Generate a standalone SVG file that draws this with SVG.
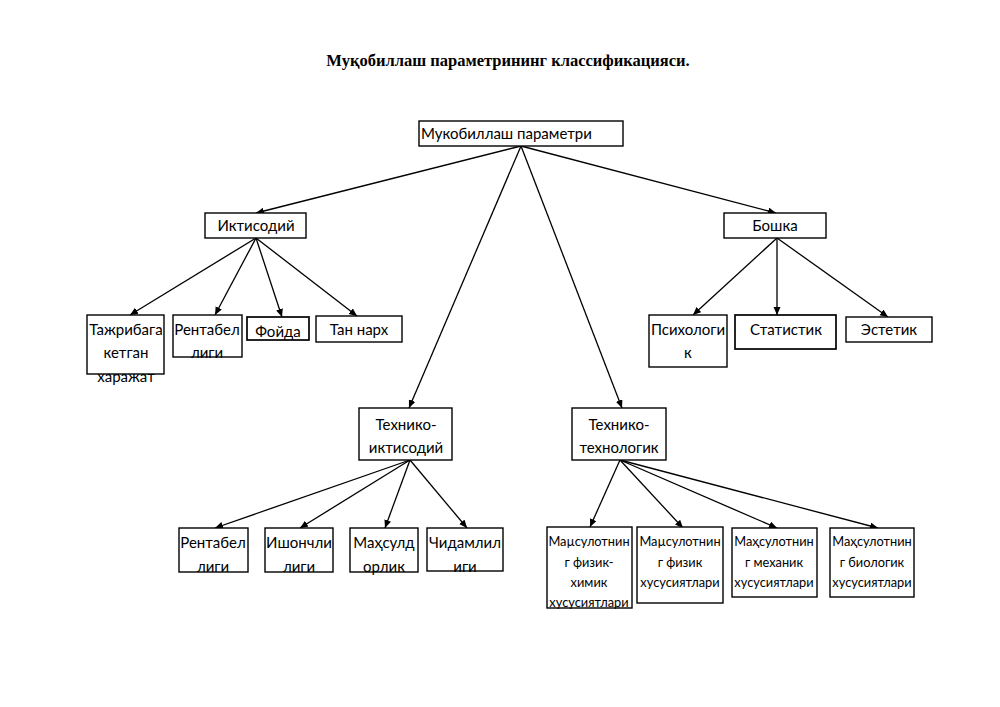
<svg xmlns="http://www.w3.org/2000/svg" width="1000" height="707" viewBox="0 0 1000 707">
<style>
.box{fill:#fff;stroke:#000;stroke-width:1.4}
.thick{stroke-width:1.7}
.t{font-family:Lato,"Open Sans","DejaVu Sans",sans-serif;font-size:15px;fill:#000;text-anchor:middle}
.s{font-family:Lato,"Open Sans","DejaVu Sans",sans-serif;font-size:12.8px;fill:#000;text-anchor:middle}
.title{font-family:"Liberation Serif","Times New Roman",serif;font-size:16.5px;font-weight:bold;fill:#000;text-anchor:middle}
.c{stroke:#000;stroke-width:1.3;fill:none;marker-end:url(#ah)}
</style>
<defs>
<marker id="ah" markerUnits="userSpaceOnUse" markerWidth="9" markerHeight="8" refX="8" refY="3.5" orient="auto">
<path d="M0,0 L8,3.5 L0,7 z" fill="#000"/>
</marker>
</defs>
<rect width="1000" height="707" fill="#fff"/>
<text class="title" x="508" y="66">Муқобиллаш параметрининг классификацияси.</text>

<g id="connectors">
<line class="c" x1="521" y1="146" x2="256" y2="213"/>
<line class="c" x1="521" y1="146" x2="776" y2="213"/>
<line class="c" x1="521" y1="146" x2="409" y2="408"/>
<line class="c" x1="521" y1="146" x2="622" y2="408"/>
<line class="c" x1="256" y1="238" x2="130" y2="315"/>
<line class="c" x1="256" y1="238" x2="215" y2="315"/>
<line class="c" x1="256" y1="238" x2="282" y2="317"/>
<line class="c" x1="256" y1="238" x2="357" y2="316"/>
<line class="c" x1="777" y1="238" x2="693" y2="315"/>
<line class="c" x1="777" y1="238" x2="777" y2="315"/>
<line class="c" x1="777" y1="238" x2="888" y2="317"/>
<line class="c" x1="410" y1="460" x2="215" y2="528"/>
<line class="c" x1="410" y1="460" x2="300" y2="528"/>
<line class="c" x1="410" y1="460" x2="385" y2="528"/>
<line class="c" x1="410" y1="460" x2="467" y2="528"/>
<line class="c" x1="620" y1="460" x2="590" y2="527"/>
<line class="c" x1="620" y1="460" x2="683" y2="528"/>
<line class="c" x1="620" y1="460" x2="777" y2="528"/>
<line class="c" x1="620" y1="460" x2="878" y2="528"/>
</g>

<g id="n-root"><rect class="box" x="419" y="121" width="204" height="25"/><text class="t" x="421" y="139" style="text-anchor:start">Мукобиллаш параметри</text></g>

<g id="n-iqtisodiy"><rect class="box" x="205" y="213" width="101" height="25"/><text class="t" x="256" y="231">Иктисодий</text></g>
<g id="n-boshqa"><rect class="box" x="724" y="213" width="102" height="25"/><text class="t" x="775" y="231">Бошка</text></g>

<g id="n-tajriba"><rect class="box" x="87" y="315" width="77" height="59"/><text class="t" x="126" y="335">Тажрибага</text><text class="t" x="126" y="358">кетган</text><text class="t" x="126" y="382">харажат</text></g>
<g id="n-rentabel1"><rect class="box" x="173" y="315" width="69" height="42"/><text class="t" x="207" y="335">Рентабел</text><text class="t" x="207" y="358">лиги</text></g>
<g id="n-foyda"><rect class="box thick" x="247" y="317" width="62" height="23"/><text class="t" x="278" y="337">Фойда</text></g>
<g id="n-tannarx"><rect class="box" x="316" y="316" width="86" height="26"/><text class="t" x="359" y="335">Тан нарх</text></g>

<g id="n-psix"><rect class="box" x="649" y="315" width="78" height="52"/><text class="t" x="688" y="335">Психологи</text><text class="t" x="688" y="358">к</text></g>
<g id="n-stat"><rect class="box thick" x="735" y="315" width="101" height="34"/><text class="t" x="786" y="335">Статистик</text></g>
<g id="n-estet"><rect class="box" x="846" y="317" width="86" height="25"/><text class="t" x="889" y="335">Эстетик</text></g>

<g id="n-tex-iqt"><rect class="box" x="359" y="408" width="93" height="52"/><text class="t" x="406" y="430">Технико-</text><text class="t" x="406" y="453">иктисодий</text></g>
<g id="n-tex-tex"><rect class="box" x="572" y="408" width="94" height="52"/><text class="t" x="619" y="430">Технико-</text><text class="t" x="619" y="453">технологик</text></g>

<g id="n-rentabel2"><rect class="box" x="179" y="528" width="69" height="44"/><text class="t" x="213" y="548">Рентабел</text><text class="t" x="213" y="572">лиги</text></g>
<g id="n-ishonch"><rect class="box" x="265" y="528" width="68" height="44"/><text class="t" x="299" y="548">Ишончли</text><text class="t" x="299" y="572">лиги</text></g>
<g id="n-mahsuld"><rect class="box" x="350" y="528" width="68" height="44"/><text class="t" x="384" y="548">Маҳсулд</text><text class="t" x="384" y="572">орлик</text></g>
<g id="n-chidam"><rect class="box" x="427" y="528" width="76" height="43"/><text class="t" x="465" y="548">Чидамлил</text><text class="t" x="465" y="572">иги</text></g>

<g id="n-fizkim"><rect class="box" x="547" y="527" width="85" height="81"/><text class="s" x="589" y="546">Маµсулотнин</text><text class="s" x="589" y="567">г физик-</text><text class="s" x="589" y="587">химик</text><text class="s" x="589" y="607">хусусиятлари</text></g>
<g id="n-fiz"><rect class="box" x="637" y="527" width="86" height="76"/><text class="s" x="680" y="546">Маµсулотнин</text><text class="s" x="680" y="567">г физик</text><text class="s" x="680" y="587">хусусиятлари</text></g>
<g id="n-mex"><rect class="box" x="732" y="528" width="85" height="69"/><text class="s" x="774" y="546">Маҳсулотнин</text><text class="s" x="774" y="567">г механик</text><text class="s" x="774" y="587">хусусиятлари</text></g>
<g id="n-bio"><rect class="box" x="830" y="528" width="84" height="69"/><text class="s" x="872" y="546">Маҳсулотнин</text><text class="s" x="872" y="567">г биологик</text><text class="s" x="872" y="587">хусусиятлари</text></g>
</svg>
